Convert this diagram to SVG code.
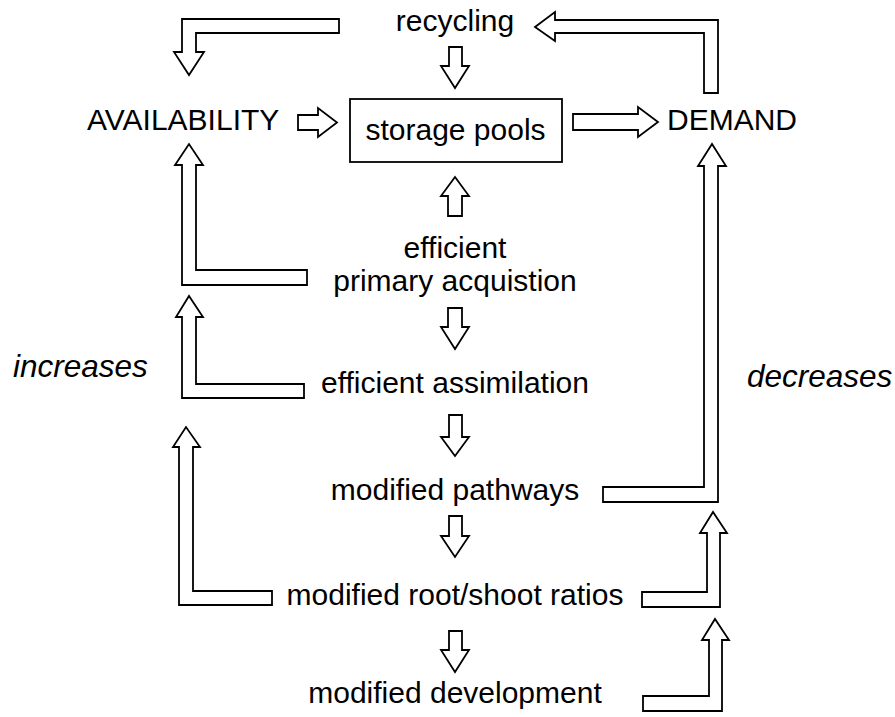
<svg xmlns="http://www.w3.org/2000/svg" width="895" height="717" viewBox="0 0 895 717">
<style>
text{font-family:"Liberation Sans",Arial,Helvetica,sans-serif;font-size:30px;fill:#000}
.c{text-anchor:middle}
.i{font-style:italic;font-size:31.5px}
.a{fill:#fff;stroke:#000;stroke-width:1.8;stroke-linejoin:miter}
.box{fill:#fff;stroke:#000;stroke-width:1.8}
</style>
<rect width="895" height="717" fill="#fff"/>
<g id="connectors">
<path class="a" d="M339,19 L182,19 L182,52 L174,52 L189,75 L204,52 L196,52 L196,33 L339,33 Z"/>
<path class="a" d="M535,27 L555,12 L555,20 L718,20 L718,93 L704,93 L704,33 L555,33 L555,41 Z"/>
<path class="a" d="M449,47 L462,47 L462,66 L469,66 L455,88 L441,66 L449,66 Z"/>
<path class="a" d="M298,115 L318,115 L318,108 L337,122.5 L318,137 L318,130 L298,130 Z"/>
<path class="a" d="M573,114 L638,114 L638,107 L658,122 L638,137 L638,130 L573,130 Z"/>
<path class="a" d="M448,216 L448,196 L441,196 L455,177 L469,196 L462,196 L462,216 Z"/>
<path class="a" d="M448,308 L462,308 L462,327 L469,327 L455,349 L441,327 L448,327 Z"/>
<path class="a" d="M449,415 L462,415 L462,437 L469,437 L455,456 L441,437 L449,437 Z"/>
<path class="a" d="M449,516 L462,516 L462,536 L469,536 L455,557 L441,536 L449,536 Z"/>
<path class="a" d="M449,631 L462,631 L462,650 L469,650 L455,672 L441,650 L449,650 Z"/>
<path class="a" d="M307,270 L196,270 L196,165 L203,165 L189,144 L175,165 L182,165 L182,285 L307,285 Z"/>
<path class="a" d="M304,384 L196,384 L196,317 L203,317 L189,296 L176,317 L182,317 L182,398 L304,398 Z"/>
<path class="a" d="M272,591 L193,591 L193,447 L200,447 L186,427 L173,447 L179,447 L179,605 L272,605 Z"/>
<path class="a" d="M603,487 L704,487 L704,166 L698,166 L712,144 L726,166 L718,166 L718,502 L603,502 Z"/>
<path class="a" d="M642,592 L707,592 L707,533 L700,533 L713,512 L727,533 L720,533 L720,607 L642,607 Z"/>
<path class="a" d="M643,696 L709,696 L709,640 L702,640 L715,619 L729,640 L722,640 L722,711 L643,711 Z"/>
</g>
<g id="recycling"><text class="c" x="455" y="31">recycling</text></g>
<g id="availability"><text x="87" y="130">AVAILABILITY</text></g>
<g id="storage-pools"><rect class="box" x="350" y="99" width="212" height="63"/><text class="c" x="455.5" y="140">storage pools</text></g>
<g id="demand"><text x="667" y="130">DEMAND</text></g>
<g id="efficient-primary-acquisition"><text class="c" x="455" y="258">efficient</text><text class="c" x="455" y="291">primary acquistion</text></g>
<g id="efficient-assimilation"><text class="c" x="455" y="393">efficient assimilation</text></g>
<g id="modified-pathways"><text class="c" x="455" y="500">modified pathways</text></g>
<g id="modified-root-shoot"><text class="c" x="455" y="605">modified root/shoot ratios</text></g>
<g id="modified-development"><text class="c" x="455" y="703">modified development</text></g>
<g id="increases"><text class="i" x="13" y="377">increases</text></g>
<g id="decreases"><text class="i" x="747" y="387">decreases</text></g>
</svg>
